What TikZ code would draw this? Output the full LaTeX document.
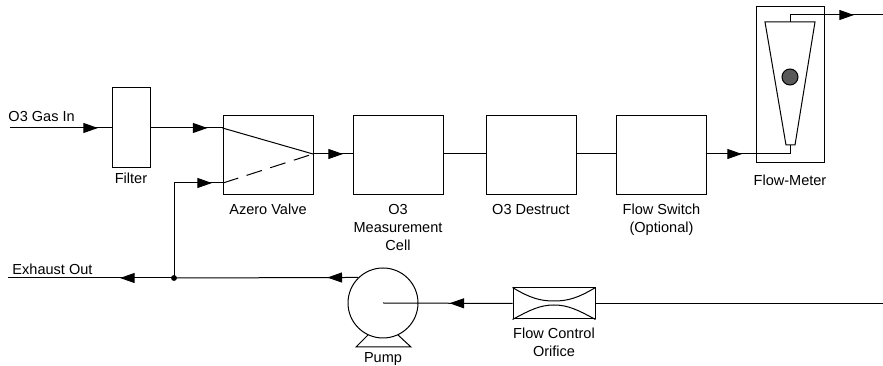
\documentclass[tikz,border=0pt]{standalone}
\usepackage{fontspec}
\setmainfont{Liberation Sans}
\usetikzlibrary{
    arrows.meta,
    positioning,
    calc,
    decorations.markings,
}

\begin{document}
\begin{tikzpicture}[
    x=0.75pt, y=-0.75pt,
    line width=0.75pt,
    unit/.style={draw, minimum width=67.5pt, minimum height=59.25pt, inner sep=0pt},
    caption/.style={inner sep=0pt, align=center, font=\fontsize{10.9}{13.5}\selectfont},
    flow/.style={postaction={decorate, decoration={markings,
        mark=at position #1*0.75pt with {\arrow{Triangle[length=11pt, width=7.5pt]}}}}},
    ]

\useasboundingbox (0,0) rectangle (883,366);

% main units
\node[draw, minimum width=28.5pt, minimum height=60pt, inner sep=0pt] at (131,128) (filter) {};
\node[unit] at (268,155.5) (valve) {};
\node[unit] at (398,155.5) (cell) {};
\node[unit] at (531,155.5) (destruct) {};
\node[unit] at (661.5,155.5) (switch) {};
\node[draw, minimum width=51pt, minimum height=117pt, inner sep=0pt] at (790,85) (meter) {};
\node[draw, circle, minimum size=52.5pt, inner sep=0pt] at (383,303) (pump) {};
\node[draw, minimum width=61.5pt, minimum height=23.25pt, inner sep=0pt] at (554,303.5) (orifice) {};

% captions
\node[caption, below=3pt of filter] (filtertext) {Filter};
\node[caption, below=6pt of valve] (valvetext) {Azero Valve};
\node[caption, below=6pt of cell] (celltext) {O3\\Measurement\\Cell};
\node[caption, below=6pt of destruct] (destructtext) {O3 Destruct};
\node[caption, below=6pt of switch] (switchtext) {Flow Switch\\(Optional)};
\node[caption, below=8pt of meter] (metertext) {Flow-Meter};
\node[caption, below=5.75pt of orifice] (orificetext) {Flow Control\\Orifice};
\node[caption, anchor=north] at (383,352) (pumptext) {Pump};
\node[caption, anchor=west] at (8,117) (gastext) {O3 Gas In};
\node[caption, anchor=west] at (12,269) (exhausttext) {Exhaust Out};

% free ends and tap points
\coordinate (gasin) at (10,128);
\coordinate (valvein1) at (valve.west |- filter.east);
\coordinate (valvein2) at (223,183);
\coordinate (valveout) at (313,154);
\coordinate (cellin) at (cell.west |- valveout);
\coordinate (cellout) at (cell.east |- valveout);
\coordinate (destructin) at (destruct.west |- valveout);
\coordinate (destructout) at (destruct.east |- valveout);
\coordinate (switchin) at (switch.west |- valveout);
\coordinate (switchout) at (switch.east |- valveout);
\coordinate (conetop) at (790,22);
\coordinate (conebottom) at (790,145);
\coordinate (meterout) at (883,15);
\coordinate (exhaust) at (8,278);
\coordinate (orificein) at (883,303.5);
\coordinate (junction) at (174,278);

% lines with flow direction
\draw[flow=88] (gasin) -- (filter.west |- gasin);
\draw[flow=57] (filter.east) -- (valvein1);
\draw[flow=133] (junction) |- (valvein2);
\draw[flow=30] (valveout) -- (cellin);
\draw (cellout) -- (destructin);
\draw (destructout) -- (switchin);
\draw[flow=35] (switchout) -| (conebottom);
\draw[flow=71] (conetop) |- (meterout);
\draw[flow=31] (pump.134) -- (junction);
\draw[flow=54] (junction) -- (exhaust);
\draw[flow=63] (orifice.west) -- (pump.center);
\draw (orificein) -- (orifice.east);
\fill (junction) circle (2.2pt);

% inside the valve
\draw (valvein1) -- (valveout);
\draw[dash pattern=on 12pt off 6.6pt] (valvein2) -- (valveout);

% inside the flow meter
\draw (765,22) -- (815,22) -- (795,145) -- (786,145) -- cycle;
\draw[fill=black!65] (790,77) circle (6pt);

% inside the orifice
\draw (orifice.north west) .. controls (530,298) and (540,301) .. (554,301)
    .. controls (568,301) and (578,298) .. (orifice.north east);
\draw (orifice.south west) .. controls (530,310) and (540,305) .. (554,305)
    .. controls (568,305) and (578,310) .. (orifice.south east);

% pump foot
\draw (368,335) -- (356,347) -- (411,347) -- (398,335);

\end{tikzpicture}
\end{document}
